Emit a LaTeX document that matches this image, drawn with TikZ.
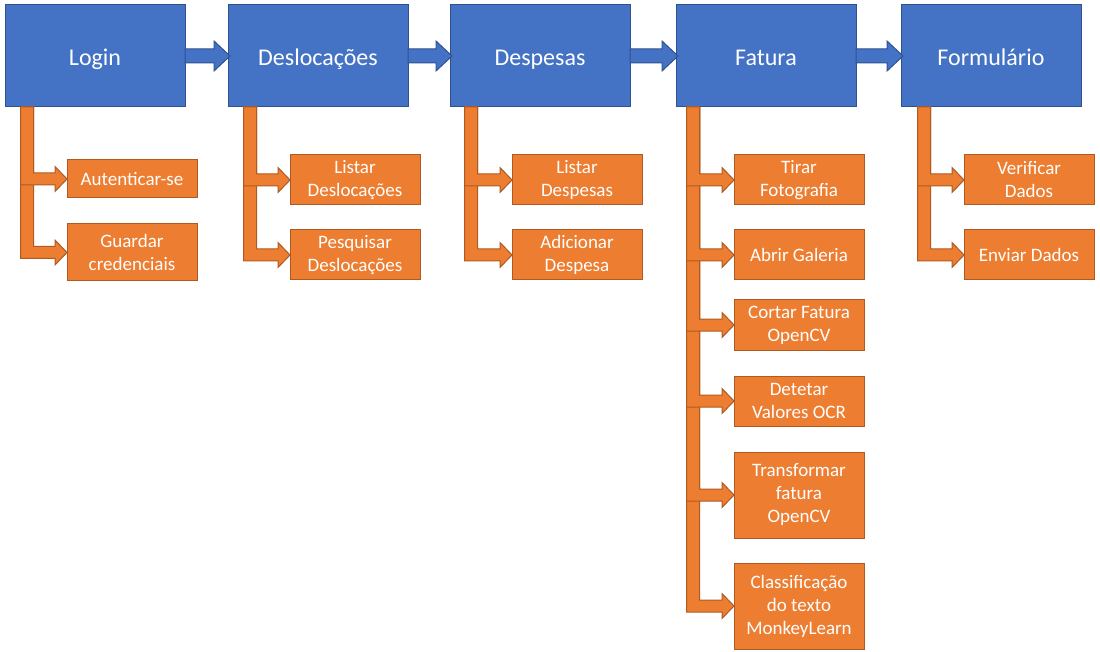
\documentclass[tikz,border=0pt]{standalone}
\usepackage{fontspec}
\setmainfont{Carlito}
\usepackage{tikz}
\usetikzlibrary{positioning, calc}
\definecolor{stagefill}{RGB}{68, 114, 196}
\definecolor{stageline}{RGB}{47, 82, 143}
\definecolor{taskfill}{RGB}{237, 125, 49}
\definecolor{taskline}{RGB}{174, 90, 33}
\newcommand{\stagefont}{\fontsize{24}{29}\selectfont}
\newcommand{\taskfont}{\fontsize{19}{23}\selectfont}
% block arrow between two stages
\newcommand{\flowarrow}[2]{%
  \filldraw[flowline] ($(#1.east)+(0,-7)$) -- ($(#2.west)+(-14,-7)$) -- ++(0,-8) -- ($(#2.west)+(2,0)$) -- ++(-16,15) -- ++(0,-8) -- ($(#1.east)+(0,7)$) -- cycle;}
% elbow arrow from a stage bar to a task
\newcommand{\branch}[2]{%
  \filldraw[branchline] ($(#1)+(-6.5,0)$) |- ($(#2.west)+(-12,6)$) -- ++(0,6.5) -- (#2.west) -- ++(-12,-12.5) -- ++(0,6.5) -| ($(#1)+(6.5,0)$) -- cycle;}

\begin{document}
\begin{tikzpicture}[
    x=1pt, y=-1pt,
    stage/.style={rectangle, draw=stageline, fill=stagefill, line width=1pt, outer sep=0pt, text=white, minimum width=180pt, minimum height=102pt, text height=22pt, text depth=2pt, font=\stagefont},
    task/.style={rectangle, draw=taskline, fill=taskfill, line width=1pt, outer sep=0pt, text=white, minimum width=130pt, minimum height=50pt, inner sep=2pt, align=center, font=\taskfont},
    flowline/.style={draw=stageline, fill=stagefill, line width=1pt, line join=miter},
    branchline/.style={draw=taskline, fill=taskfill, line width=1pt, line join=miter}
]
\useasboundingbox (0,0) rectangle (1100,652);

\node[stage, anchor=north west] (login) at (5,5) {Login};
\node[stage, right=43pt of login] (desl) {Deslocações};
\node[stage, right=42pt of desl] (desp) {Despesas};
\node[stage, right=46pt of desp] (fatura) {Fatura};
\node[stage, right=45pt of fatura] (form) {Formulário};

\flowarrow{login}{desl}
\flowarrow{desl}{desp}
\flowarrow{desp}{fatura}
\flowarrow{fatura}{form}

% Login
\node[task, below=53pt of login.south west, anchor=north west, xshift=62pt, minimum height=38pt] (auth) {Autenticar-se};
\node[task, below=26pt of auth, minimum height=57pt] (cred) {Guardar\\credenciais};

% Deslocações
\node[task, below=48pt of desl.south west, anchor=north west, xshift=62pt] (listdesl) {Listar\\Deslocações};
\node[task, below=25pt of listdesl] (pesqdesl) {Pesquisar\\Deslocações};

% Despesas
\node[task, below=48pt of desp.south west, anchor=north west, xshift=62pt] (listdesp) {Listar\\Despesas};
\node[task, below=25pt of listdesp] (adddesp) {Adicionar\\Despesa};

% Fatura
\node[task, below=48pt of fatura.south west, anchor=north west, xshift=58pt] (photo) {Tirar\\Fotografia};
\node[task, below=25pt of photo] (gallery) {Abrir Galeria};
\node[task, below=20pt of gallery] (crop) {Cortar Fatura\\OpenCV};
\node[task, below=26pt of crop] (ocr) {Detetar\\Valores OCR};
\node[task, below=26pt of ocr, minimum height=86pt] (warp) {Transformar\\fatura\\OpenCV};
\node[task, below=25pt of warp, minimum height=86pt] (classify) {Classificação\\do texto\\MonkeyLearn};

% Formulário
\node[task, below=48pt of form.south west, anchor=north west, xshift=63pt] (verify) {Verificar\\Dados};
\node[task, below=25pt of verify] (send) {Enviar Dados};

\coordinate (loginbar) at ($(login.south west)+(22,0)$);
\coordinate (deslbar) at ($(desl.south west)+(22,0)$);
\coordinate (despbar) at ($(desp.south west)+(21,0)$);
\coordinate (faturabar) at ($(fatura.south west)+(17,0)$);
\coordinate (formbar) at ($(form.south west)+(23,0)$);

\foreach \t in {cred, auth} {\branch{loginbar}{\t}}
\foreach \t in {pesqdesl, listdesl} {\branch{deslbar}{\t}}
\foreach \t in {adddesp, listdesp} {\branch{despbar}{\t}}
\foreach \t in {classify, warp, ocr, crop, gallery, photo} {\branch{faturabar}{\t}}
\foreach \t in {send, verify} {\branch{formbar}{\t}}

\end{tikzpicture}
\end{document}
